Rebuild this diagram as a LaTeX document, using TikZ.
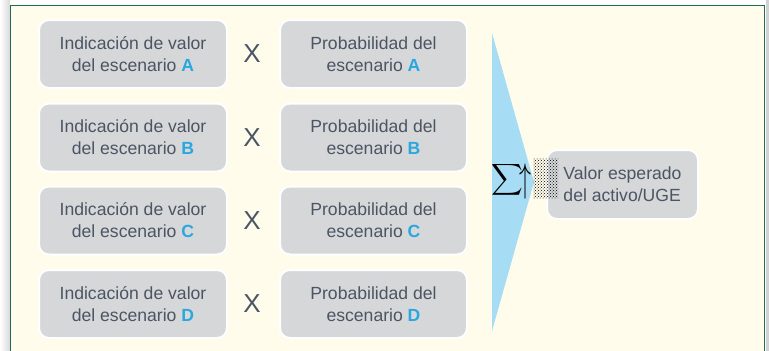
\documentclass[tikz,border=0pt]{standalone}
\usepackage{fontspec}
\setmainfont{Liberation Sans}
\usetikzlibrary{patterns}
\definecolor{bgc}{HTML}{FFFCEB}
\definecolor{boxc}{HTML}{D6D7D9}
\definecolor{txtc}{HTML}{4B5563}
\definecolor{bluec}{HTML}{29A8E0}
\definecolor{tric}{HTML}{A6DDF5}
\definecolor{framec}{HTML}{1F6B58}
\begin{document}
\begin{tikzpicture}[x=1pt,y=-1pt,
  cell/.style={draw=white,line width=2pt,fill=boxc,rounded corners=10pt,
    minimum width=188pt,minimum height=68pt,align=center,text=txtc,
    font=\fontsize{17.6}{22}\selectfont,inner sep=0pt},
  times/.style={text=txtc,font=\fontsize{26}{26}\selectfont,inner sep=0pt}]
\useasboundingbox (0,0) rectangle (769,351);
% outside shading
\shade[left color=white,right color=black!15] (0,0) rectangle (10,351);
\fill[black!18] (766,0) rectangle (769,351);
\fill[bgc] (10,5) rectangle (765,351);
\draw[framec,line width=1.6pt] (10.5,351) -- (10.5,5.5) -- (764.5,5.5) -- (764.5,351);
\newcommand{\hl}[1]{\textcolor{bluec}{\textbf{#1}}}
\foreach \r/\y in {A/54,B/137.5,C/220.5,D/304}{
  \node[cell] (v\r) at (133,\y) {Indicación de valor\\del escenario \hl{\r}};
  \node[times] (x\r) at (252,\y) {X};
  \node[cell,minimum width=187pt] (p\r) at (373.5,\y) {Probabilidad del\\escenario \hl{\r}};
}
\coordinate (t1) at (492,33);
\coordinate (t2) at (534,182);
\coordinate (t3) at (492,331);
\fill[tric] (t1) -- (t2) -- (t3) -- cycle;
\node[cell,minimum width=151pt,minimum height=69pt,align=left] (res) at (622.5,184.5) {Valor esperado\\del activo/UGE};
\fill[pattern=crosshatch dots,pattern color=black] (533,158) rectangle (558,198);
\node[inner sep=0pt] (sig) at (507,180) {\scalebox{2.2}{$\displaystyle\sum$}};
\node[inner sep=0pt] (arr) at (525,181) {\scalebox{2.4}[4]{$\uparrow$}};
\end{tikzpicture}
\end{document}
